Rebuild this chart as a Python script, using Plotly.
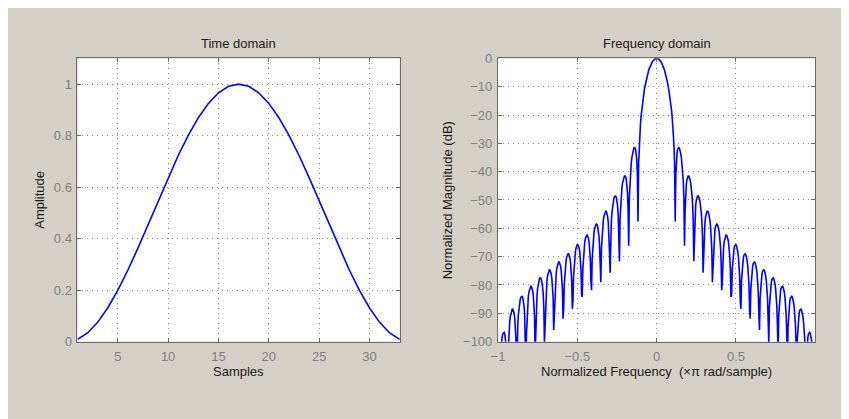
import numpy as np
import plotly.graph_objects as go

# ---- data ----
samples = list(range(1, 34))
amplitude = [0.00851, 0.03376, 0.07489, 0.13050, 0.19868, 0.27713, 0.36317, 0.45387,
             0.54613, 0.63683, 0.72287, 0.80132, 0.86950, 0.92511, 0.96624, 0.99149,
             1.00000,
             0.99149, 0.96624, 0.92511, 0.86950, 0.80132, 0.72287, 0.63683, 0.54613,
             0.45387, 0.36317, 0.27713, 0.19868, 0.13050, 0.07489, 0.03376, 0.00851]
n_fft = 512
time_xticks = [5, 10, 15, 20, 25, 30]
time_yticks = [0, 0.2, 0.4, 0.6, 0.8, 1]
freq_xticks = [-1, -0.5, 0, 0.5]
freq_yticks = list(range(-100, 1, 10))

# frequency response derived from the time-domain values
H = np.fft.fftshift(np.fft.fft(np.array(amplitude), n_fft))
mag = np.abs(H)
freq_db = 20 * np.log10(np.maximum(mag, 1e-300) / mag.max())
freq_x = (np.arange(n_fft) - n_fft // 2) * 2.0 / n_fft

W, Hh = 841, 411
BG = "#d4d0c8"
FONT = "Liberation Sans, Arial, sans-serif"
TICKC = "#7f7f7f"
FRAME = "#6b6b6b"


def px(x):
    return (x - 8) / W


def py(y):
    return 1 - (y - 8) / Hh


fig = go.Figure()
fig.add_trace(go.Scatter(x=samples, y=amplitude, mode="lines",
                         line=dict(color="#0000ff", width=1.6),
                         xaxis="x", yaxis="y", showlegend=False))
fig.add_trace(go.Scatter(x=freq_x, y=freq_db, mode="lines",
                         line=dict(color="#0000ff", width=1.6),
                         xaxis="x2", yaxis="y2", showlegend=False))

common = dict(showline=True, linecolor=FRAME, linewidth=1, mirror="allticks",
              ticks="inside", ticklen=4, tickcolor=FRAME,
              showgrid=True, gridcolor="#8a8a8a", griddash="1px,4px", gridwidth=1,
              zeroline=False, tickfont=dict(family=FONT, size=13, color=TICKC),
              fixedrange=True)

fig.update_layout(
    width=W, height=Hh,
    margin=dict(l=0, r=0, t=0, b=0),
    paper_bgcolor=BG, plot_bgcolor="white",
    xaxis=dict(domain=[px(71), px(396)], range=[1, 33], tickvals=time_xticks,
               anchor="y", ticklabelstandoff=3, **common),
    yaxis=dict(domain=[py(347), py(53)], range=[0, 1.1], tickvals=time_yticks,
               anchor="x", ticklabelstandoff=2, **common),
    xaxis2=dict(domain=[px(495), px(815)], range=[-1, 1], tickvals=freq_xticks,
                anchor="y2", ticklabelstandoff=3, **common),
    yaxis2=dict(domain=[py(347), py(53)], range=[-100, 0], tickvals=freq_yticks,
                anchor="x2", ticklabelstandoff=2, **common),
)

TF = dict(family=FONT, size=13, color="#1a1a1a")
ann = [
    dict(text="Time domain", x=px(233.5), y=py(38)),
    dict(text="Frequency domain", x=px(655), y=py(38)),
    dict(text="Samples", x=px(233.5), y=py(378)),
    dict(text="Normalized Frequency  (×π rad/sample)", x=px(655), y=py(378)),
    dict(text="Amplitude", x=px(33), y=py(200), textangle=-90),
    dict(text="Normalized Magnitude (dB)", x=px(445), y=py(200), textangle=-90),
]
for a in ann:
    fig.add_annotation(xref="paper", yref="paper", showarrow=False,
                       xanchor="center", yanchor="middle", font=TF, **a)

fig.write_html("out.html", config={"displayModeBar": False})
